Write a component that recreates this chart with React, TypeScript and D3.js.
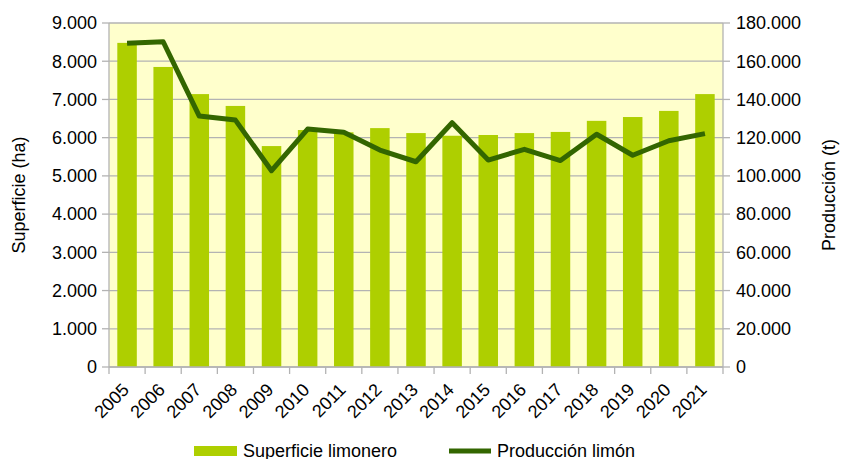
import React from "react";
import * as d3 from "d3";

const years = ["2005","2006","2007","2008","2009","2010","2011","2012","2013","2014","2015","2016","2017","2018","2019","2020","2021"];
const superficie = [8480, 7850, 7140, 6830, 5780, 6200, 6140, 6250, 6120, 6050, 6070, 6120, 6150, 6440, 6540, 6700, 7140];
const produccion = [169400, 170200, 131300, 129200, 102700, 124500, 122800, 113500, 107400, 127800, 108300, 113900, 108000, 121800, 110800, 118400, 122100];
const leftTicks = [0, 1000, 2000, 3000, 4000, 5000, 6000, 7000, 8000, 9000];
const rightTicks = [0, 20000, 40000, 60000, 80000, 100000, 120000, 140000, 160000, 180000];
const seriesNames = ["Superficie limonero", "Producción limón"];
const axisTitles = ["Superficie (ha)", "Producción (t)"];

const W = 843, H = 459;
const L = 109, R = 723, T = 23, B = 367;
const BAR = "#aecf00";
const LINE = "#336600";
const GRID = "#b3b3b3";
const FONT = "'Liberation Sans', Arial, sans-serif";

const fmt = d3.formatLocale({ decimal: ",", thousands: ".", grouping: [3], currency: ["", "€"] }).format(",");

export default function App() {
  const x = d3.scaleBand<string>().domain(years).range([L, R]).padding(0);
  const yL = d3.scaleLinear().domain([0, 9000]).range([B, T]);
  const yR = d3.scaleLinear().domain([0, 180000]).range([B, T]);
  const bw = x.bandwidth() * 0.54;
  const line = d3.line<number>()
    .x((_, i) => (x(years[i]) as number) + x.bandwidth() / 2)
    .y((d) => yR(d));
  const boundaries = years.map((y) => x(y) as number).concat([R]);

  return (
    <svg width={W} height={H} style={{ position: "absolute", left: 0, top: 0, display: "block" }} fontFamily={FONT}>
      <rect x={0} y={0} width={W} height={H} fill="#fff" />
      <rect x={L} y={T} width={R - L} height={B - T} fill="#ffffcc" />
      {leftTicks.map((t) => (
        <line key={"g" + t} x1={L} x2={R} y1={yL(t)} y2={yL(t)} stroke={GRID} strokeWidth={1.3} />
      ))}
      {superficie.map((v, i) => (
        <rect key={"b" + i} x={(x(years[i]) as number) + (x.bandwidth() - bw) / 2} y={yL(v)} width={bw} height={B - yL(v)} fill={BAR} />
      ))}
      {/* axes */}
      <line x1={L} x2={L} y1={T} y2={B} stroke={GRID} strokeWidth={1.3} />
      <line x1={R} x2={R} y1={T} y2={B} stroke={GRID} strokeWidth={1.3} />
      <line x1={L} x2={R} y1={B} y2={B} stroke={GRID} strokeWidth={1.3} />
      {leftTicks.map((t) => (
        <g key={"lt" + t}>
          <line x1={L - 7} x2={L} y1={yL(t)} y2={yL(t)} stroke={GRID} strokeWidth={1.3} />
          <text x={L - 12} y={yL(t)} dy="0.35em" textAnchor="end" fontSize={18} fill="#000">{fmt(t)}</text>
        </g>
      ))}
      {rightTicks.map((t) => (
        <g key={"rt" + t}>
          <line x1={R} x2={R + 7} y1={yR(t)} y2={yR(t)} stroke={GRID} strokeWidth={1.3} />
          <text x={R + 13} y={yR(t)} dy="0.35em" textAnchor="start" fontSize={18} fill="#000">{fmt(t)}</text>
        </g>
      ))}
      {boundaries.map((bx, i) => (
        <line key={"xt" + i} x1={bx} x2={bx} y1={B} y2={B + 7} stroke={GRID} strokeWidth={1.3} />
      ))}
      {years.map((yr) => {
        const cx = (x(yr) as number) + x.bandwidth() / 2;
        return (
          <text key={"xl" + yr} transform={`translate(${cx + 3},${B + 24}) rotate(-45)`} textAnchor="end" fontSize={18} fill="#000">{yr}</text>
        );
      })}
      <path d={line(produccion) || ""} fill="none" stroke={LINE} strokeWidth={5} strokeLinejoin="round" />
      <text transform={`translate(25,${(T + B) / 2}) rotate(-90)`} textAnchor="middle" fontSize={18} fill="#000">{axisTitles[0]}</text>
      <text transform={`translate(835,${(T + B) / 2}) rotate(-90)`} textAnchor="middle" fontSize={18} fill="#000">{axisTitles[1]}</text>
      {/* legend */}
      <rect x={194} y={446} width={43} height={10} fill={BAR} />
      <text x={243} y={457} fontSize={18} fill="#000">{seriesNames[0]}</text>
      <line x1={449} x2={491} y1={451} y2={451} stroke={LINE} strokeWidth={5} />
      <text x={497} y={457} fontSize={18} fill="#000">{seriesNames[1]}</text>
    </svg>
  );
}
